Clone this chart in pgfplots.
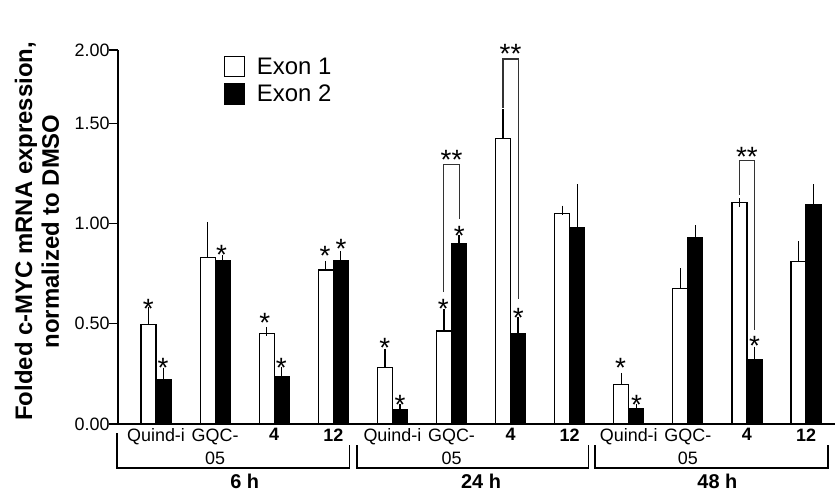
\documentclass[border=0pt]{standalone}
\usepackage{pgfplots}
\pgfplotsset{compat=1.18}
\usepackage{pgfplotstable}
\usepackage{fontspec}
\setmainfont{Liberation Sans}
\pgfplotstableread{
x y e
0 0.497 0.065
1 0.829 0.157
2 0.452 0.010
3 0.768 0.023
4 0.283 0.070
5 0.464 0.085
6 1.423 0.123
7 1.049 0.017
8 0.196 0.037
9 0.675 0.080
10 1.104 0.000
11 0.811 0.077
}\exonone
\pgfplotstableread{
x y e
0 0.223 0.036
1 0.816 0.003
2 0.234 0.029
3 0.815 0.026
4 0.073 0.003
5 0.901 0.017
6 0.452 0.060
7 0.981 0.191
8 0.075 0.000
9 0.931 0.037
10 0.321 0.043
11 1.094 0.078
}\exontwo
\begin{document}
\begin{tikzpicture}
\useasboundingbox (-118bp,-70bp) rectangle (717bp,424bp);
\begin{axis}[
  scale only axis, width=717bp, height=374bp,
  at={(0,0)}, anchor=south west,
  xmin=-0.644, xmax=11.49, ymin=0, ymax=1.865,
  axis x line*=bottom, axis y line*=left,
  axis line style={line width=1.3bp, -},
  ytick={0,0.5,1,1.5,1.865},
  yticklabels={0.00,0.50,1.00,1.50,2.00},
  tick align=outside, major tick length=9bp,
  y tick style={line width=1.3bp, black},
  x tick style={draw=none},
  xtick={0,...,11},
  xticklabels={Quind-i,{GQC-\\05},\textbf{4},\textbf{12},Quind-i,{GQC-\\05},\textbf{4},\textbf{12},Quind-i,{GQC-\\05},\textbf{4},\textbf{12}},
  xticklabel style={align=center, font=\fontsize{18}{24}\selectfont, yshift=8bp},
  yticklabel style={font=\fontsize{18}{21}\selectfont, xshift=4bp},
  ylabel={\textbf{Folded c-MYC mRNA expression,}\\\textbf{normalized to DMSO}},
  ylabel style={align=center, font=\fontsize{24}{27}\selectfont, at={(axis description cs:0,0.515)}, anchor=center, yshift=81bp},
  ybar=0pt, bar width=15bp,
  clip=false,
  legend style={draw=none, fill=none, at={(0.143,0.99)}, anchor=north west, font=\fontsize{24}{28}\selectfont,
    /tikz/every odd column/.append style={column sep=10bp}, /tikz/row sep=5bp},
  legend cell align=left,
  legend image code/.code={\draw[#1] (0bp,-10bp) rectangle (20bp,10bp);},
]
\addplot[fill=white, draw=black, line width=1.2bp,
  error bars/.cd, y dir=plus, y explicit,
  error bar style={line width=1.2bp, black},
  error mark options={black, line width=1.2bp, mark size=4.5bp}]
  table[x=x, y=y, y error=e] {\exonone};
\addlegendentry{Exon 1}
\addplot[fill=black, draw=black, line width=1.2bp,
  error bars/.cd, y dir=plus, y explicit,
  error bar style={line width=1.2bp, black},
  error mark options={black, line width=1.2bp, mark size=4.5bp}]
  table[x=x, y=y, y error=e] {\exontwo};
\addlegendentry{Exon 2}

% single stars
\begin{scope}[every node/.style={font=\fontsize{28}{28}\selectfont, inner sep=0pt, anchor=center, yshift=-6bp}]
\node at (axis cs:-0.13,0.603) {*};
\node at (axis cs:0.12,0.309) {*};
\node at (axis cs:1.11,0.873) {*};
\node at (axis cs:1.84,0.532) {*};
\node at (axis cs:2.12,0.311) {*};
\node at (axis cs:2.86,0.868) {*};
\node at (axis cs:3.13,0.903) {*};
\node at (axis cs:3.87,0.410) {*};
\node at (axis cs:4.13,0.125) {*};
\node at (axis cs:4.86,0.602) {*};
\node at (axis cs:5.13,0.968) {*};
\node at (axis cs:6.13,0.557) {*};
\node at (axis cs:7.86,0.311) {*};
\node at (axis cs:8.13,0.125) {*};
\node at (axis cs:10.13,0.419) {*};
\node at (axis cs:5.0,1.345) {**};
\node at (axis cs:6.0,1.874) {**};
\node at (axis cs:10.0,1.360) {**};
\end{scope}

% significance brackets
\draw[line width=1.2bp, black!80] (axis cs:4.87,0.658) -- (axis cs:4.87,1.293) -- (axis cs:5.13,1.293) -- (axis cs:5.13,1.022);
\draw[line width=1.2bp, black!80] (axis cs:5.87,1.578) -- (axis cs:5.87,1.820) -- (axis cs:6.13,1.820) -- (axis cs:6.13,0.623);
\draw[line width=1.2bp, black!80] (axis cs:9.87,1.142) -- (axis cs:9.87,1.312) -- (axis cs:10.13,1.312) -- (axis cs:10.13,0.469);

% group brackets
\draw[line width=1.3bp] (axis cs:-0.66,-0.045) -- (axis cs:-0.66,-0.219) -- (axis cs:3.27,-0.219) -- (axis cs:3.27,-0.105);
\draw[line width=1.3bp] (axis cs:3.40,-0.105) -- (axis cs:3.40,-0.219) -- (axis cs:7.32,-0.219) -- (axis cs:7.32,-0.105);
\draw[line width=1.3bp] (axis cs:7.43,-0.105) -- (axis cs:7.43,-0.219) -- (axis cs:11.37,-0.219) -- (axis cs:11.37,-0.105);
\begin{scope}[every node/.style={font=\bfseries\fontsize{20}{24}\selectfont, inner sep=0pt}]
\node at (axis cs:1.5,-0.287) {6 h};
\node at (axis cs:5.5,-0.287) {24 h};
\node at (axis cs:9.5,-0.287) {48 h};
\end{scope}
\end{axis}
\end{tikzpicture}
\end{document}
